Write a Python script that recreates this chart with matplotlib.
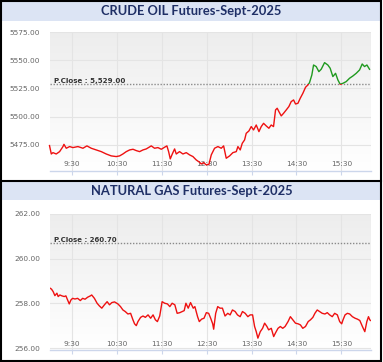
import matplotlib
matplotlib.use("Agg")
import matplotlib.pyplot as plt
import numpy as np
from matplotlib.patches import Rectangle

# ---------------- data ----------------
crude_title = "CRUDE OIL Futures-Sept-2025"
crude_prev_close = 5529.00
crude_minutes = [0, 2.4, 4.6, 9.0, 13.5, 18.0, 19.3, 22.4, 26.9, 31.3, 38.0, 44.7, 50.0, 55.8,
                 62.5, 69.2, 75.8, 82.5, 89.2, 93.7, 98.1, 102.6, 107.1, 111.6, 116.0, 120.4,
                 124.9, 129.3, 136.0, 140.4, 144.9, 149.4, 153.8, 156.9, 159.2, 161.4, 164.1,
                 167.2, 169.4, 173.8, 178.3, 182.8, 187.2, 191.7, 196.1, 200.6, 202.8, 205.9,
                 209.5, 213.1, 216.2, 220.6, 225.1, 229.5, 232.7, 236.2, 240.7, 245.1, 249.6,
                 251.8, 254.9, 257.6, 260.7, 262.9, 266.5, 269.6, 272.7, 276.3, 279.9, 283.0,
                 286.1, 289.6, 293.2, 296.3, 299.4, 302.1, 304.3, 306.6, 309.7, 312.8, 316.4,
                 319.9, 323.0, 326.2, 328.8, 332.0, 335.1, 338.6, 342.2, 345.3, 347.5, 350.6,
                 352.9, 356.4, 360.0, 363.1, 367.6, 372.0, 375.1, 378.7, 382.3, 385.4, 388.5,
                 392.1, 396.5, 401.0, 405.4, 409.9, 414.4, 417.9, 421.0, 424.2, 427.7]
crude_prices = [5474.2, 5466.7, 5467.9, 5466.7, 5468.8, 5473.3, 5475.3, 5471.8, 5473.3, 5472.4,
                5473.3, 5471.8, 5473.9, 5471.8, 5470.3, 5468.8, 5466.7, 5465.0, 5464.4, 5465.0,
                5466.7, 5468.8, 5470.3, 5470.9, 5469.7, 5468.8, 5470.3, 5471.2, 5473.9, 5471.8,
                5472.4, 5470.9, 5472.7, 5473.9, 5468.8, 5462.3, 5466.7, 5471.2, 5466.7, 5468.8,
                5466.7, 5467.9, 5465.9, 5464.4, 5461.4, 5459.3, 5457.8, 5459.0, 5457.0, 5457.5,
                5465.9, 5471.8, 5473.3, 5471.8, 5473.9, 5462.9, 5465.0, 5467.9, 5468.8, 5473.3,
                5470.3, 5476.2, 5479.2, 5485.1, 5487.2, 5491.1, 5488.1, 5492.5, 5486.6, 5491.1,
                5494.0, 5491.7, 5489.6, 5492.5, 5491.1, 5505.9, 5507.4, 5504.4, 5500.6, 5502.9,
                5505.9, 5508.9, 5513.3, 5514.8, 5511.2, 5511.8, 5516.3, 5520.7, 5526.1, 5528.1,
                5530.2, 5537.0, 5545.9, 5544.5, 5540.0, 5542.1, 5548.0, 5545.9, 5543.0, 5535.6,
                5538.5, 5532.6, 5528.7, 5529.6, 5531.1, 5534.1, 5536.1, 5538.5, 5541.5, 5546.8,
                5544.5, 5545.9, 5542.1]
crude_yticks = [5475, 5500, 5525, 5550, 5575]
crude_ylabels = ["5475.00", "5500.00", "5525.00", "5550.00", "5575.00"]
crude_close_label = "P.Close : 5,529.00"

gas_title = "NATURAL GAS Futures-Sept-2025"
gas_prev_close = 260.70
gas_minutes = [0.9, 2.7, 4.9, 7.2, 9.9, 11.6, 13.9, 16.6, 19.7, 21.9, 24.2, 26.4, 28.7, 30.9,
               34.0, 37.6, 41.2, 44.3, 47.5, 51.0, 54.6, 56.4, 60.0, 63.6, 66.7, 69.9, 73.4,
               77.0, 80.2, 83.3, 86.9, 91.4, 94.9, 98.1, 101.2, 104.8, 108.4, 111.5, 113.7,
               116.0, 118.2, 121.8, 124.9, 128.1, 131.7, 135.2, 138.4, 141.5, 144.2, 147.3,
               150.5, 154.0, 157.6, 160.8, 163.9, 167.5, 170.6, 174.2, 177.3, 180.0, 182.3,
               185.4, 188.5, 192.1, 194.3, 197.9, 200.2, 203.3, 206.5, 209.6, 212.7, 215.4,
               218.1, 219.4, 222.1, 224.8, 227.9, 231.1, 234.6, 238.2, 241.4, 244.5, 248.1,
               251.2, 254.8, 257.9, 261.5, 265.1, 268.2, 271.4, 274.1, 276.3, 278.5, 281.7,
               284.8, 287.5, 290.6, 292.9, 296.4, 299.6, 301.8, 305.4, 308.5, 311.7, 314.8,
               318.8, 321.9, 325.1, 328.7, 332.3, 335.4, 338.5, 342.1, 345.7, 348.8, 352.0,
               354.7, 357.8, 360.9, 364.5, 368.1, 371.2, 374.4, 377.9, 381.1, 384.7, 387.8,
               390.5, 392.3, 395.0, 398.1, 401.2, 404.8, 408.4, 411.5, 414.7, 418.2, 421.4,
               424.1, 426.3, 428.0, 429.0]
gas_prices = [258.68, 258.64, 258.53, 258.35, 258.46, 258.31, 258.38, 258.34, 258.31, 258.34,
              258.16, 257.98, 258.16, 258.23, 258.20, 258.23, 258.13, 258.23, 258.19, 258.28,
              258.34, 258.38, 258.23, 258.01, 257.89, 257.79, 257.94, 258.08, 257.94, 258.04,
              258.07, 257.98, 257.86, 257.71, 257.64, 257.53, 257.56, 257.27, 257.09, 257.01,
              257.19, 257.38, 257.44, 257.38, 257.49, 257.34, 257.49, 257.27, 257.19, 257.44,
              258.08, 258.01, 257.98, 257.86, 258.01, 257.94, 257.56, 257.59, 257.64, 257.68,
              258.01, 257.79, 258.04, 257.79, 257.86, 257.41, 257.19, 257.30, 257.34, 257.59,
              257.56, 257.34, 257.09, 256.85, 257.56, 257.86, 257.79, 257.79, 257.44, 257.56,
              257.49, 257.71, 257.64, 257.49, 257.41, 257.64, 257.56, 257.41, 257.49, 257.49,
              256.97, 256.74, 256.45, 256.74, 256.89, 257.12, 256.97, 256.82, 256.89, 256.52,
              256.67, 256.89, 256.97, 256.89, 256.97, 257.19, 257.41, 257.27, 257.12, 257.09,
              257.04, 256.89, 256.97, 257.19, 257.27, 257.38, 257.56, 257.71, 257.64, 257.56,
              257.53, 257.59, 257.49, 257.41, 257.56, 257.49, 257.19, 257.09, 257.27, 257.49,
              257.56, 257.53, 257.41, 257.34, 257.30, 257.24, 256.97, 256.74, 257.19, 257.41,
              257.27, 257.24]
gas_yticks = [256, 258, 260, 262]
gas_ylabels = ["256.00", "258.00", "260.00", "262.00"]
gas_close_label = "P.Close : 260.70"

time_ticks = [30, 90, 150, 210, 270, 330, 390]
time_labels = ["9:30", "10:30", "11:30", "12:30", "13:30", "14:30", "15:30"]

# ---------------- layout ----------------
W, H, DPI = 383, 362, 100
fig = plt.figure(figsize=(W / DPI, H / DPI), dpi=DPI)
fig.patch.set_facecolor("white")

def fx(px):
    return px / W

def fy(py):
    return 1 - py / H

BAND = "#dce4f4"
NAVY = "#1f2f66"
RED = "#ee1111"
GREEN = "#1f9a1f"
renderer = fig.canvas.get_renderer()

def fitted_text(obj, x, y, s, target_w, **kw):
    t = obj.text(x, y, s, **kw)
    w = t.get_window_extent(renderer).width
    t.set_fontsize(t.get_fontsize() * target_w / w)
    return t

def panel(top_band, band_h, ax_top, ax_bot, title, title_w, minutes, prices, pclose,
          yticks, ylabels, ylim, close_label, close_w, close_y_px, zone):
    # title band
    fig.patches.append(Rectangle((fx(1), fy(top_band + band_h)), fx(380) - fx(1), band_h / H,
                                 transform=fig.transFigure, facecolor=BAND, edgecolor="none", zorder=0))
    fitted_text(fig, fx(191.5), fy(top_band + band_h / 2 + 0.5), title, title_w,
                ha="center", va="center", fontsize=10, fontweight="bold",
                family="Lato", color=NAVY)
    ax = fig.add_axes([fx(49.5), fy(ax_bot), fx(370.5) - fx(49.5), (ax_bot - ax_top) / H])
    grad = np.linspace(0.93, 1.0, 200)[:, None]
    rgb = np.dstack([grad, grad, grad])
    ax.imshow(rgb, extent=(0, 1, 0, 1), transform=ax.transAxes, aspect="auto",
              origin="upper", zorder=-2, interpolation="bilinear")
    for s in ["top", "left", "right"]:
        ax.spines[s].set_visible(False)
    ax.spines["bottom"].set_color("#ccd6eb")
    ax.spines["bottom"].set_linewidth(1)
    ax.set_yticks(yticks)
    ax.set_yticklabels(ylabels)
    ax.set_xticks(time_ticks)
    ax.set_xticklabels(time_labels)
    ax.tick_params(axis="y", length=0, pad=6.6, labelsize=5.3, labelcolor="#666666")
    ax.tick_params(axis="x", length=3, width=0.8, color="#ccd6eb", direction="out",
                   pad=-9.6, labelsize=5.3, labelcolor="#666666")
    ax.grid(True, color="#e4e4e4", linewidth=0.8)
    ax.set_axisbelow(True)
    ax.set_xlim(0, 429)
    ax.set_ylim(*ylim)
    ax.axhline(pclose, color="#8a8a8a", linestyle=(0, (1, 1.2)), linewidth=1.0, zorder=1.8)
    # line coloured by zone: red below previous close, green above
    if zone:
        lg, = ax.plot(minutes, prices, color=GREEN, linewidth=1.0, zorder=3)
        lg.set_clip_path(Rectangle((-1000, pclose), 3000, 1e5, transform=ax.transData))
        lr, = ax.plot(minutes, prices, color=RED, linewidth=1.0, zorder=3)
        lr.set_clip_path(Rectangle((-1000, pclose - 1e5), 3000, 1e5, transform=ax.transData))
    else:
        ax.plot(minutes, prices, color=RED, linewidth=1.0, zorder=3)
    fitted_text(fig, fx(54), fy(close_y_px), close_label, close_w, ha="left", va="center",
                fontsize=6, fontweight="bold", family="DejaVu Sans", color="#333333")
    return ax

panel(1, 19.5, 32.3, 170.5, crude_title, 181, crude_minutes, crude_prices, crude_prev_close,
      crude_yticks, crude_ylabels, (5452, 5575), crude_close_label, 72, 80.5, True)
panel(181.5, 18.5, 214.0, 350.0, gas_title, 202, gas_minutes, gas_prices, gas_prev_close,
      gas_yticks, gas_ylabels, (255.92, 262), gas_close_label, 63, 239.5, False)

# frame and separator
fig.patches.append(Rectangle((fx(1), fy(361)), fx(380.5) - fx(1), (361 - 1) / H,
                             transform=fig.transFigure, facecolor="none", edgecolor="black",
                             linewidth=1.5, zorder=10))
fig.lines.append(plt.Line2D([fx(0), fx(381)], [fy(180.7), fy(180.7)], transform=fig.transFigure,
                            color="black", linewidth=1.5, zorder=10))

fig.savefig("out.png", dpi=DPI)
